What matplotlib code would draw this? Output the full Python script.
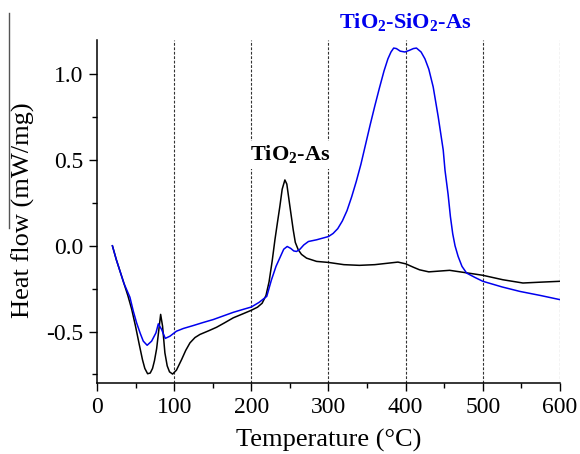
import numpy as np
import matplotlib
matplotlib.use('Agg')
import matplotlib.pyplot as plt
from matplotlib.lines import Line2D

plt.rcParams['font.family'] = ['Liberation Serif', 'DejaVu Serif']
plt.rcParams['mathtext.fontset'] = 'custom'
plt.rcParams['mathtext.rm'] = 'Liberation Serif'
plt.rcParams['mathtext.bf'] = 'Liberation Serif:bold'

# DSC traces, temperature in degC, heat flow in mW/mg
temp_tio2 = [20, 25, 30, 35, 40, 45, 50, 55, 59, 62, 65.6, 69, 72, 74.5, 77.3, 80.7, 82.5, 85,
             88, 91, 94, 98, 103, 109.7, 115, 120.5, 127, 133.4, 145, 155, 165, 176.6, 190, 200,
             208, 214, 219, 223, 227, 230.6, 234, 237, 240, 243.5, 246, 250, 254.3, 257, 260.8,
             265, 271.6, 284.6, 300, 320, 340, 360, 380, 390, 400, 410, 418, 430, 457, 481, 500,
             526, 552, 575, 600]
flow_tio2 = [0.0, -0.08, -0.15, -0.22, -0.29, -0.37, -0.47, -0.58, -0.665, -0.715, -0.746,
             -0.742, -0.715, -0.67, -0.60, -0.469, -0.40, -0.469, -0.624, -0.70, -0.735, -0.748,
             -0.725, -0.663, -0.61, -0.566, -0.535, -0.517, -0.495, -0.475, -0.45, -0.42, -0.395,
             -0.376, -0.358, -0.335, -0.29, -0.21, -0.09, 0.035, 0.14, 0.23, 0.33, 0.384, 0.36,
             0.23, 0.093, 0.02, -0.023, -0.05, -0.072, -0.091, -0.097, -0.11, -0.114, -0.11,
             -0.10, -0.095, -0.105, -0.125, -0.14, -0.152, -0.143, -0.159, -0.172, -0.198,
             -0.217, -0.212, -0.207]

temp_tio2_sio2 = [20, 25, 30, 35, 42.7, 47, 51.4, 56, 60, 65, 70.8, 76.4, 79.5, 83.8, 88.5, 94.6,
                  103, 112, 124.8, 137, 150.7, 163, 176.6, 190, 200, 210, 220, 226, 232, 237, 242,
                  246.5, 251, 255, 258.6, 263, 268, 274, 284.6, 300, 306, 312, 318, 324, 330,
                  336, 342, 348, 354, 360, 366, 372, 377, 381, 384.5, 388, 393, 399, 405,
                  410, 414, 420, 425, 430, 435.7, 442.2, 448.7, 451, 455, 458, 461, 464, 468, 473,
                  479, 490, 500, 525, 548, 575, 600]
flow_tio2_sio2 = [0.0, -0.08, -0.15, -0.22, -0.30, -0.38, -0.45, -0.51, -0.556, -0.58, -0.556,
                  -0.508, -0.455, -0.488, -0.54, -0.527, -0.498, -0.482, -0.465, -0.448, -0.43,
                  -0.41, -0.388, -0.37, -0.357, -0.33, -0.295, -0.20, -0.12, -0.07, -0.02, -0.004,
                  -0.015, -0.03, -0.033, -0.02, 0.005, 0.025, 0.035, 0.054, 0.072, 0.10, 0.145,
                  0.205, 0.285, 0.375, 0.475, 0.59, 0.705, 0.815, 0.92, 1.02, 1.09, 1.13, 1.153,
                  1.15, 1.135, 1.13, 1.14, 1.15, 1.153, 1.13, 1.09, 1.03, 0.926, 0.752, 0.558, 0.44,
                  0.30, 0.17, 0.07, 0.0, -0.062, -0.12, -0.159, -0.185, -0.207, -0.24, -0.266, -0.29,
                  -0.314]

grid_temps = [100, 200, 300, 400, 500, 600]

fig = plt.figure(figsize=(5.8, 4.54), dpi=100)
ax = fig.add_axes([0.1672, 0.1564, 0.7983, 0.7555])

for t in grid_temps:
    ax.axvline(t, color='#333333', lw=0.8, ls=(0, (2.5, 1.5)), zorder=1)

ax.plot(temp_tio2, flow_tio2, color='black', lw=1.1, zorder=3)
ax.plot(temp_tio2_sio2, flow_tio2_sio2, color='#0000ee', lw=1.1, zorder=4)

ax.set_xlim(0, 600)
ax.set_ylim(-0.8, 1.2)
ax.set_xticks([0, 100, 200, 300, 400, 500, 600])
ax.set_xticks(np.arange(50, 600, 100), minor=True)
ax.set_yticks([-0.5, 0.0, 0.5, 1.0])
ax.set_yticks([-0.75, -0.25, 0.25, 0.75], minor=True)
ax.set_yticklabels(['-0.5', '0.0', '0.5', '1.0'])

for side in ['top', 'right']:
    ax.spines[side].set_visible(False)
for side in ['left', 'bottom']:
    ax.spines[side].set_linewidth(1.1)

ax.tick_params(which='major', direction='out', length=6, width=1.0, labelsize=17, pad=4)
ax.tick_params(which='minor', direction='out', length=3.5, width=1.0)

ax.set_xlabel('Temperature (°C)', fontsize=19, labelpad=8)
fig.text(0.040, 0.537, 'Heat flow (mW/mg)', rotation=90, fontsize=19,
         ha='center', va='center')
fig.add_artist(Line2D([0.0155, 0.0155], [0.971, 0.498], transform=fig.transFigure,
                      color='#555555', lw=1.0))

ax.text(251, 0.53, r'TiO$_\mathbf{2}$-As', fontsize=16, fontweight='bold', color='black',
        ha='center', va='center', zorder=5,
        bbox=dict(facecolor='white', edgecolor='none', pad=2))
ax.text(399, 1.30, r'TiO$_\mathbf{2}$-SiO$_\mathbf{2}$-As', fontsize=16, fontweight='bold',
        color='#0000ee', ha='center', va='center', clip_on=False)

fig.savefig('out.png', dpi=100)
